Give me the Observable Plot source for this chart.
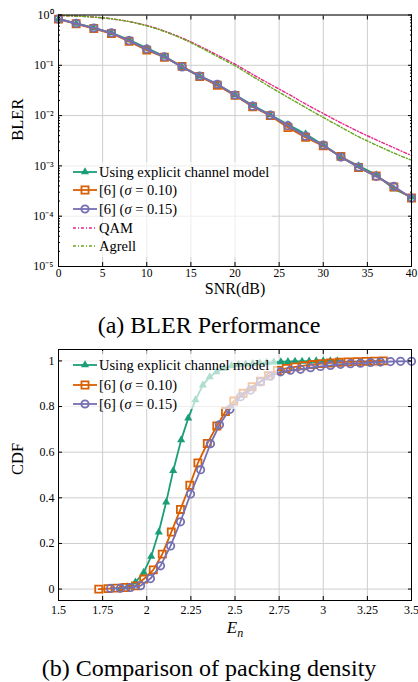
<!DOCTYPE html>
<html><head><meta charset="utf-8">
<script src="https://cdn.jsdelivr.net/npm/d3@7"></script>
<script src="https://cdn.jsdelivr.net/npm/@observablehq/plot@0.6"></script>
<style>
body{margin:0;background:#fff;font-family:"Liberation Serif",serif;}
#wrap{position:relative;width:418px;height:682px;overflow:hidden;background:#fff;}
.plot{position:absolute;left:0;}
.plot text{font-family:"Liberation Serif","Times New Roman",serif;}
.legend{position:absolute;background:rgba(255,255,255,0.65);font-size:14.5px;color:#000;}
.legend .row{position:absolute;left:0;height:18px;line-height:18px;display:flex;align-items:center;white-space:nowrap;}
.legend svg{display:block;}
.caption{position:absolute;left:0;width:418px;text-align:center;font-size:24px;line-height:28px;color:#000;}
</style></head><body><div id="wrap"></div>
<script>
// ---------- data: (a) BLER performance ----------
const snr = [0,2,4,6,8,10,12,14,16,18,20,22,24,26,28,30,32,34,36,38,40];
const blerExplicit = [0.83,0.68,0.55,0.44,0.32,0.22,0.15,0.092,0.061,0.042,0.0258,0.016,0.0103,0.0066,0.0043,0.0026,0.0015,0.00100,0.00066,0.00035,0.00024];
const blerSigma010 = [0.83,0.67,0.54,0.43,0.30,0.20,0.145,0.095,0.060,0.040,0.0252,0.0150,0.0100,0.0058,0.0037,0.0025,0.00155,0.00093,0.00063,0.00038,0.00023];
const blerSigma015 = [0.83,0.68,0.55,0.44,0.31,0.21,0.148,0.093,0.061,0.042,0.0256,0.0154,0.0102,0.0063,0.0039,0.0026,0.0015,0.00095,0.00062,0.00039,0.00023];
const blerQAM      = [0.98,0.95,0.91,0.84,0.74,0.62,0.48,0.35,0.24,0.16,0.105,0.066,0.042,0.027,0.017,0.011,0.0072,0.0048,0.0033,0.0023,0.0016];
const blerAgrell   = [0.98,0.95,0.91,0.84,0.74,0.61,0.47,0.34,0.23,0.15,0.098,0.060,0.037,0.023,0.0145,0.0092,0.0059,0.0038,0.0026,0.0018,0.0013];
const blerXTicks = [0,5,10,15,20,25,30,35,40];
const blerYTicks = [1e-5,1e-4,1e-3,1e-2,1e-1,1];

// ---------- data: (b) packing density CDF ----------
const enExplicit  = [1.85,1.89,1.936,1.983,2.025,2.068,2.110,2.150,2.195,2.235,2.276,2.318,2.357,2.395,2.437,2.48,2.52,2.56,2.60,2.64,2.68,2.72,2.76,2.80,2.84,2.88,2.92,2.96,3.00,3.04,3.08];
const cdfExplicit = [0.0,0.01,0.03,0.073,0.143,0.25,0.381,0.519,0.654,0.749,0.829,0.894,0.93,0.952,0.967,0.978,0.983,0.986,0.988,0.99,0.992,0.994,0.996,0.997,0.998,0.998,0.999,1.0,1.0,1.0,1.0];
const enSigma010  = [1.728,1.78,1.83,1.88,1.936,1.983,2.037,2.088,2.139,2.191,2.244,2.290,2.343,2.397,2.446,2.493,2.546,2.597,2.644,2.69,2.74,2.79,2.84,2.89,2.94,2.99,3.04,3.09,3.14,3.19,3.24,3.29,3.34];
const cdfSigma010 = [0.0,0.002,0.004,0.007,0.014,0.044,0.084,0.153,0.25,0.349,0.455,0.553,0.638,0.715,0.778,0.824,0.858,0.887,0.911,0.935,0.958,0.967,0.974,0.979,0.984,0.988,0.991,0.994,0.996,0.997,0.998,0.999,1.0];
const enSigma015  = [1.795,1.851,1.908,1.965,2.021,2.078,2.135,2.191,2.248,2.305,2.361,2.412,2.471,2.531,2.588,2.644,2.701,2.758,2.814,2.871,2.928,2.984,3.041,3.098,3.154,3.211,3.268,3.324,3.381,3.438,3.5];
const cdfSigma015 = [0.003,0.004,0.007,0.015,0.046,0.102,0.189,0.295,0.417,0.523,0.637,0.72,0.788,0.843,0.872,0.908,0.933,0.952,0.959,0.963,0.97,0.976,0.98,0.985,0.988,0.99,0.993,0.995,0.997,0.998,0.998];
const cdfXTicks = [1.5,1.75,2,2.25,2.5,2.75,3,3.25,3.5];
const cdfYTicks = [0,0.2,0.4,0.6,0.8,1];

// ---------- labels ----------
const legendA = ["Using explicit channel model", " [6] (<i>σ</i> = 0.10)", " [6] (<i>σ</i> = 0.15)", "QAM", "Agrell"];
const legendB = ["Using explicit channel model", "[6] (<i>σ</i> = 0.10)", "[6] (<i>σ</i> = 0.15)"];
const captionA = "(a) BLER Performance";
const captionB = "(b) Comparison of packing density";

// ---------- style ----------
const C = {green:"#1b9e77", orange:"#d95f02", purple:"#7570b3", pink:"#e7298a", lime:"#66a61e"};
const GRID = "#cdcdcd";
const FONT = '"Liberation Serif", "Times New Roman", serif';
const DASHDOT = "3,2,1,2";

const zip = (xs, ys) => xs.map((x, i) => ({x, y: ys[i]}));
const SUP = {"-":"⁻","0":"⁰","1":"¹","2":"²","3":"³","4":"⁴","5":"⁵","6":"⁶","7":"⁷","8":"⁸","9":"⁹"};
const supFmt = d => "10" + String(Math.round(Math.log10(d))).split("").map(c => SUP[c]).join("");
const minorLog = [];
for (let e = -5; e < 0; e++) for (let m = 2; m <= 9; m++) minorLog.push(m * Math.pow(10, e));
const blank = () => "";
const stripEmpty = svg => d3.select(svg).selectAll("text").filter(function () { return this.textContent === ""; }).remove();

const wrap = document.getElementById("wrap");

// ---------- plot (a) ----------
const exA = zip(snr, blerExplicit), s10A = zip(snr, blerSigma010), s15A = zip(snr, blerSigma015);
const plotA = Plot.plot({
  width: 418, height: 300,
  marginLeft: 58, marginRight: 7, marginTop: 14.5, marginBottom: 34,
  x: {domain: [0, 40]},
  y: {type: "log", domain: [1e-5, 1]},
  style: {fontFamily: FONT, fontSize: "12px", color: "black", background: "white", overflow: "visible"},
  marks: [
    Plot.gridX(blerXTicks, {stroke: GRID, strokeOpacity: 1}),
    Plot.gridY(blerYTicks, {stroke: GRID, strokeOpacity: 1}),
    Plot.line(zip(snr, blerQAM), {x: "x", y: "y", stroke: C.pink, strokeWidth: 1.4, strokeDasharray: DASHDOT, curve: "monotone-x"}),
    Plot.line(zip(snr, blerAgrell), {x: "x", y: "y", stroke: C.lime, strokeWidth: 1.4, strokeDasharray: DASHDOT, curve: "monotone-x"}),
    Plot.line(exA, {x: "x", y: "y", stroke: C.green, strokeWidth: 2}),
    Plot.dot(exA, {x: "x", y: "y", symbol: "triangle", r: 3, fill: C.green}),
    Plot.line(s10A, {x: "x", y: "y", stroke: C.orange, strokeWidth: 2}),
    Plot.dot(s10A, {x: "x", y: "y", symbol: "square", r: 4, stroke: C.orange, strokeWidth: 1.8, fill: "none"}),
    Plot.line(s15A, {x: "x", y: "y", stroke: C.purple, strokeWidth: 2}),
    Plot.dot(s15A, {x: "x", y: "y", symbol: "circle", r: 3.7, stroke: C.purple, strokeWidth: 1.8, fill: "none"}),
    Plot.frame({stroke: "black", strokeWidth: 1}),
    Plot.axisX(blerXTicks, {tickSize: 0, tickPadding: 2, tickFormat: d => String(d), fontSize: 11.5, fontFamily: FONT, label: null}),
    Plot.axisX(blerXTicks, {tickSize: 4, dy: -4, tickFormat: blank, label: null}),
    Plot.axisX(blerXTicks, {anchor: "top", tickSize: 4, dy: 4, tickFormat: blank, label: null}),
    Plot.axisY(blerYTicks, {tickSize: 0, tickPadding: 5, tickFormat: supFmt, fontSize: 12, fontFamily: FONT, label: null}),
    Plot.axisY(blerYTicks, {tickSize: 4, dx: 4, tickFormat: blank, label: null}),
    Plot.axisY(blerYTicks, {anchor: "right", tickSize: 4, dx: -4, tickFormat: blank, label: null}),
    Plot.axisY(minorLog, {tickSize: 2, dx: 2, tickFormat: blank, label: null}),
    Plot.axisY(minorLog, {anchor: "right", tickSize: 2, dx: -2, tickFormat: blank, label: null}),
    Plot.text(["BLER"], {frameAnchor: "left", dx: -41, rotate: -90, fontSize: 16.5, fontFamily: FONT}),
    Plot.text(["SNR(dB)"], {frameAnchor: "bottom", dy: 27, fontSize: 16, fontFamily: FONT})
  ]
});
plotA.classList.add("plot");
plotA.style.top = "0px";
stripEmpty(plotA);
wrap.appendChild(plotA);

// ---------- plot (b) ----------
const exB = zip(enExplicit, cdfExplicit), s10B = zip(enSigma010, cdfSigma010), s15B = zip(enSigma015, cdfSigma015);
const plotB = Plot.plot({
  width: 418, height: 300,
  marginLeft: 58, marginRight: 7, marginTop: 9, marginBottom: 40,
  x: {domain: [1.5, 3.5]},
  y: {domain: [-0.05, 1.05]},
  style: {fontFamily: FONT, fontSize: "12px", color: "black", background: "white", overflow: "visible"},
  marks: [
    Plot.gridX(cdfXTicks, {stroke: GRID, strokeOpacity: 1}),
    Plot.gridY(cdfYTicks, {stroke: GRID, strokeOpacity: 1}),
    Plot.line(exB, {x: "x", y: "y", stroke: C.green, strokeWidth: 1.8}),
    Plot.dot(exB, {x: "x", y: "y", symbol: "triangle", r: 3, fill: C.green}),
    Plot.line(s10B, {x: "x", y: "y", stroke: C.orange, strokeWidth: 1.8}),
    Plot.dot(s10B, {x: "x", y: "y", symbol: "square", r: 4, stroke: C.orange, strokeWidth: 1.8, fill: "none"}),
    Plot.line(s15B, {x: "x", y: "y", stroke: C.purple, strokeWidth: 1.8}),
    Plot.dot(s15B, {x: "x", y: "y", symbol: "circle", r: 3.7, stroke: C.purple, strokeWidth: 1.8, fill: "none"}),
    Plot.frame({stroke: "black", strokeWidth: 1}),
    Plot.axisX(cdfXTicks, {tickSize: 0, tickPadding: 5, tickFormat: d => String(d), fontSize: 12, fontFamily: FONT, label: null}),
    Plot.axisX(cdfXTicks, {tickSize: 4, dy: -4, tickFormat: blank, label: null}),
    Plot.axisX(cdfXTicks, {anchor: "top", tickSize: 4, dy: 4, tickFormat: blank, label: null}),
    Plot.axisY(cdfYTicks, {tickSize: 0, tickPadding: 4, tickFormat: d => String(d), fontSize: 12, fontFamily: FONT, label: null}),
    Plot.axisY(cdfYTicks, {tickSize: 4, dx: 4, tickFormat: blank, label: null}),
    Plot.axisY(cdfYTicks, {anchor: "right", tickSize: 4, dx: -4, tickFormat: blank, label: null}),
    Plot.text(["CDF"], {frameAnchor: "left", dx: -41, rotate: -90, fontSize: 16.5, fontFamily: FONT}),
    Plot.text(["E"], {frameAnchor: "bottom", dy: 32, fontSize: 17, fontStyle: "italic", fontFamily: FONT})
  ]
});
plotB.classList.add("plot");
plotB.style.top = "340px";
stripEmpty(plotB);
wrap.appendChild(plotB);
d3.select(plotB).selectAll("text").filter(function () { return this.textContent === "E"; })
  .append("tspan").attr("dy", "0.35em").attr("font-size", 12).text("n");

// ---------- legends ----------
function sample(kind) {
  const w = 24, h = 14, cy = 7, cx = 12;
  const specs = [
    {stroke: C.green, sym: d3.symbolTriangle, r: 3, fill: C.green},
    {stroke: C.orange, sym: d3.symbolSquare, r: 4, fill: "none"},
    {stroke: C.purple, sym: d3.symbolCircle, r: 3.7, fill: "none"},
    {stroke: C.pink, dash: true},
    {stroke: C.lime, dash: true}
  ][kind];
  let s = `<svg width="${w}" height="${h}"><line x1="0" x2="${w}" y1="${cy}" y2="${cy}" stroke="${specs.stroke}" stroke-width="${specs.dash ? 1.4 : 1.8}"${specs.dash ? ` stroke-dasharray="${DASHDOT}"` : ""}/>`;
  if (specs.sym) {
    const p = d3.symbol(specs.sym, specs.r * specs.r * Math.PI)();
    s += `<path d="${p}" transform="translate(${cx},${cy})" fill="${specs.fill}" stroke="${specs.fill === "none" ? specs.stroke : "none"}" stroke-width="1.8"/>`;
  }
  return s + "</svg>";
}
function legend(labels, left, top, width, height, firstCenter, step) {
  const box = document.createElement("div");
  box.className = "legend";
  Object.assign(box.style, {left: left + "px", top: top + "px", width: width + "px", height: height + "px"});
  labels.forEach((lab, i) => {
    const row = document.createElement("div");
    row.className = "row";
    row.style.top = (firstCenter + i * step - 9) + "px";
    row.innerHTML = `<span style="margin-left:11px">${sample(i)}</span><span style="margin-left:2px">${lab}</span>`;
    box.appendChild(row);
  });
  wrap.appendChild(box);
}
legend(legendA, 62, 162, 210, 95, 9.7, 18.6);
legend(legendB, 62, 351, 215, 58, 14, 19.5);

// ---------- captions ----------
function caption(text, centerY) {
  const d = document.createElement("div");
  d.className = "caption";
  d.style.top = (centerY - 14) + "px";
  d.textContent = text;
  wrap.appendChild(d);
}
caption(captionA, 325);
caption(captionB, 668);
</script>
</body></html>
